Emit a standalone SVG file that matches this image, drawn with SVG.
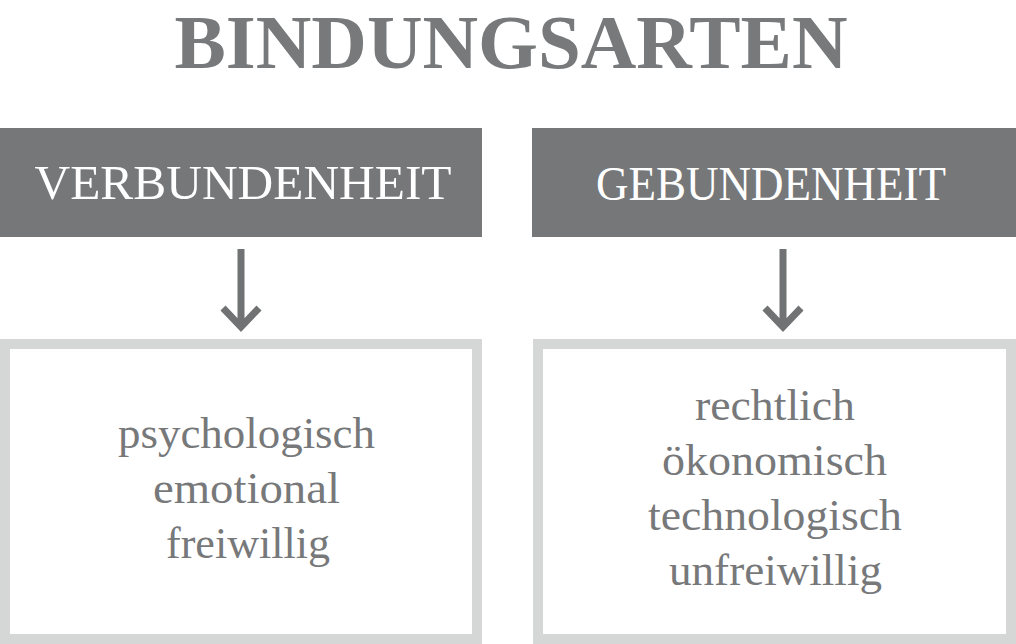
<svg xmlns="http://www.w3.org/2000/svg" width="1016" height="644" viewBox="0 0 1016 644">
<style>
.hdr{fill:#767779}
.box{fill:#ffffff;stroke:#d5d7d7;stroke-width:10}
.title{font-family:"Liberation Serif",serif;font-weight:bold;font-size:76px;fill:#77797a;text-anchor:middle}
.htxt{font-family:"Liberation Serif",serif;font-size:49px;fill:#ffffff;text-anchor:middle}
.btxt{font-family:"Liberation Serif",serif;font-size:45px;fill:#77787a;text-anchor:middle}
.arr{fill:none;stroke:#717273;stroke-width:7}
</style>
<rect width="1016" height="644" fill="#ffffff"/>
<text id="title" class="title" x="511" y="68" textLength="673" lengthAdjust="spacingAndGlyphs">BINDUNGSARTEN</text>
<g id="verbundenheit">
<rect class="hdr" x="0" y="128" width="482" height="109"/>
<text class="htxt" x="243" y="199" textLength="417" lengthAdjust="spacingAndGlyphs">VERBUNDENHEIT</text>
</g>
<g id="gebundenheit">
<rect class="hdr" x="532" y="128" width="484" height="109"/>
<text class="htxt" x="771" y="200" textLength="350" lengthAdjust="spacingAndGlyphs">GEBUNDENHEIT</text>
</g>
<g id="verbundenheit-details">
<rect class="box" x="5" y="344" width="472" height="295"/>
<text class="btxt" x="246.5" y="448" textLength="257" lengthAdjust="spacingAndGlyphs">psychologisch</text>
<text class="btxt" x="246.5" y="503" textLength="187" lengthAdjust="spacingAndGlyphs">emotional</text>
<text class="btxt" x="248" y="558" textLength="164" lengthAdjust="spacingAndGlyphs">freiwillig</text>
</g>
<g id="gebundenheit-details">
<rect class="box" x="538" y="344" width="473" height="295"/>
<text class="btxt" x="775" y="420" textLength="160" lengthAdjust="spacingAndGlyphs">rechtlich</text>
<text class="btxt" x="774.5" y="475" textLength="225" lengthAdjust="spacingAndGlyphs">ökonomisch</text>
<text class="btxt" x="775" y="530" textLength="254" lengthAdjust="spacingAndGlyphs">technologisch</text>
<text class="btxt" x="775.5" y="585" textLength="213" lengthAdjust="spacingAndGlyphs">unfreiwillig</text>
</g>
<g id="connectors">
<path class="arr" d="M241 249 V326 M223 308 L241 327 L259 308"/>
<path class="arr" d="M783 249 V326 M765 308 L783 327 L801 308"/>
</g>
</svg>
